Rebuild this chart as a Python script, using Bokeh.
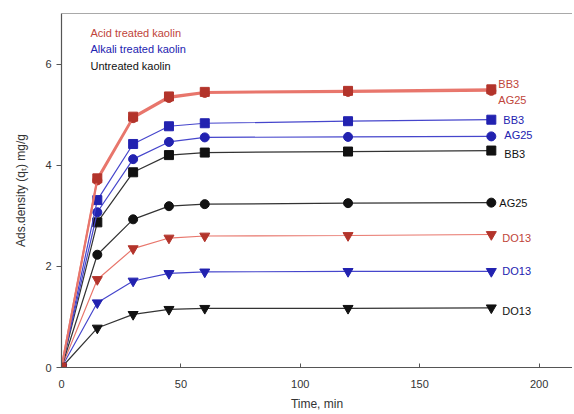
from bokeh.plotting import figure
from bokeh.models import Label, Span, FixedTicker
from bokeh.core.properties import value
from bokeh.embed import file_html
from bokeh.resources import INLINE

# time points (min)
time = [0, 15, 30, 45, 60, 120, 180]

# adsorption density q_t (mg/g)
acid_bb3 = [0, 3.74, 4.96, 5.36, 5.45, 5.47, 5.50]
acid_ag25 = [0, 3.70, 4.93, 5.33, 5.43, 5.45, 5.47]
acid_do13 = [0, 1.74, 2.35, 2.56, 2.60, 2.61, 2.63]
alk_bb3 = [0, 3.31, 4.42, 4.77, 4.83, 4.87, 4.90]
alk_ag25 = [0, 3.07, 4.12, 4.46, 4.55, 4.56, 4.57]
alk_do13 = [0, 1.28, 1.71, 1.86, 1.89, 1.90, 1.90]
unt_bb3 = [0, 2.87, 3.86, 4.20, 4.25, 4.27, 4.29]
unt_ag25 = [0, 2.23, 2.93, 3.19, 3.23, 3.25, 3.26]
unt_do13 = [0, 0.78, 1.05, 1.15, 1.17, 1.17, 1.18]

groups = ["Acid treated kaolin", "Alkali treated kaolin", "Untreated kaolin"]
x_ticks = [0, 50, 100, 150, 200]
y_ticks = [0, 2, 4, 6]

FONT = "Liberation Sans"
RED, RED_LINE = "#b3342b", "#e8766c"
BLUE, BLUE_LINE = "#2222b0", "#4646cc"
BLACK, BLACK_LINE = "#111111", "#333333"

p = figure(width=572, height=413, x_range=(0, 214), y_range=(0, 7),
           output_backend="svg", toolbar_location=None,
           min_border_left=61, min_border_top=13, min_border_right=0,
           min_border_bottom=40)
p.outline_line_color = None
p.xgrid.visible = False
p.ygrid.visible = False
p.background_fill_color = "white"

p.add_layout(Span(location=7, dimension="width", line_color="#555555",
                  line_width=1.2))

# (values, marker, marker colour, line colour, line width, label, dx, dy)
series = [
    (unt_do13, "inverted_triangle", BLACK, BLACK_LINE, 1.2, "DO13", 11, 3),
    (alk_do13, "inverted_triangle", BLUE, BLUE_LINE, 1.2, "DO13", 11, 0),
    (acid_do13, "inverted_triangle", RED, RED_LINE, 1.2, "DO13", 11, 4),
    (unt_ag25, "circle", BLACK, BLACK_LINE, 1.2, "AG25", 8, 0),
    (unt_bb3, "square", BLACK, BLACK_LINE, 1.2, "BB3", 13, 3),
    (alk_ag25, "circle", BLUE, BLUE_LINE, 1.2, "AG25", 13, -1),
    (alk_bb3, "square", BLUE, BLUE_LINE, 1.2, "BB3", 12, 0),
    (acid_ag25, "circle", RED, RED_LINE, 2.0, "AG25", 7, 9),
    (acid_bb3, "square", RED, RED_LINE, 2.0, "BB3", 7, -5),
]

for vals, marker, col, lcol, lw, lab, dx, dy in series:
    p.line(time, vals, line_color=lcol, line_width=lw)
    size = 9 if marker != "inverted_triangle" else 10
    p.scatter(time, vals, marker=marker, size=size, fill_color=col,
              line_color=col)
    tcol = {RED: "#c0443a", BLUE: BLUE, BLACK: BLACK}[col]
    p.text([time[-1]], [vals[-1]], text=[lab], x_offset=dx, y_offset=dy,
           text_font=value(FONT), text_font_size="11px", text_color=tcol,
           text_baseline="middle", text_align="left")

# group legend as coloured texts in the upper left
for i, (g, c) in enumerate(zip(groups, ["#c0443a", BLUE, BLACK])):
    p.add_layout(Label(x=29, y=335 - i * 16.5, x_units="screen",
                       y_units="screen", text=g, text_color=c,
                       text_font=FONT, text_font_size="11px",
                       text_baseline="middle"))

for ax in (p.xaxis, p.yaxis):
    ax.axis_line_color = "#555555"
    ax.axis_line_width = 1.2
    ax.major_tick_line_color = "#555555"
    ax.minor_tick_line_color = None
    ax.major_label_text_font = FONT
    ax.major_label_text_font_size = "11px"
    ax.major_label_text_color = "#333333"
    ax.axis_label_text_font = FONT
    ax.axis_label_text_font_size = "12px"
    ax.axis_label_text_font_style = "normal"
    ax.axis_label_text_color = "#333333"

p.xaxis.ticker = FixedTicker(ticks=x_ticks)
p.yaxis.ticker = FixedTicker(ticks=y_ticks)
p.xaxis.major_tick_in = 4
p.xaxis.major_tick_out = 0
p.yaxis.major_tick_in = 0
p.yaxis.major_tick_out = 5
p.xaxis.major_label_standoff = 12
p.yaxis.major_label_standoff = 5
p.xaxis.axis_label = "Time, min"
p.yaxis.axis_label = "Ads.density (qₜ) mg/g"
p.xaxis.axis_label_standoff = 6
p.yaxis.axis_label_standoff = 14

open("out.html", "w").write(file_html(p, INLINE))
